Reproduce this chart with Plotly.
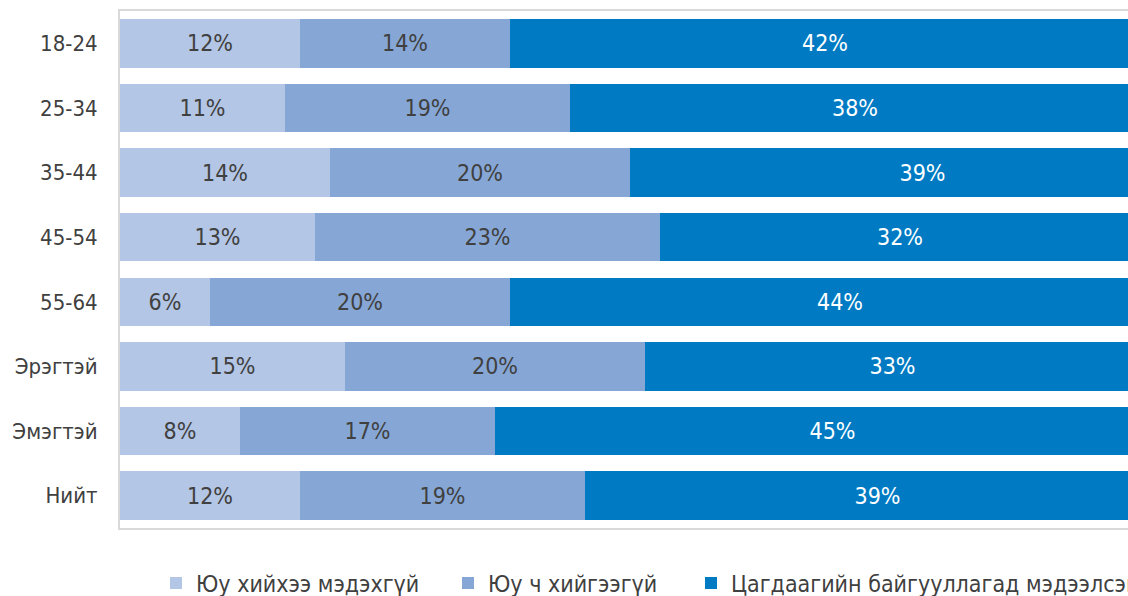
import plotly.graph_objects as go

# Response share by age group and sex (%)
categories = ["18-24", "25-34", "35-44", "45-54", "55-64", "Эрэгтэй", "Эмэгтэй", "Нийт"]
series_names = [
    "Юу хийхээ мэдэхгүй",
    "Юу ч хийгээгүй",
    "Цагдаагийн байгууллагад мэдээлсэн",
]
dont_know = [12, 11, 14, 13, 6, 15, 8, 12]
did_nothing = [14, 19, 20, 23, 20, 20, 17, 19]
reported_police = [42, 38, 39, 32, 44, 33, 45, 39]

series_values = [dont_know, did_nothing, reported_police]
colors = ["#B4C6E5", "#86A7D6", "#007BC3"]
text_colors = ["#404040", "#404040", "#FFFFFF"]

FONT = "DejaVu Sans Condensed, DejaVu Sans, sans-serif"

L_MARGIN = 120
PLOT_W = 1500
R_MARGIN = 25
FIG_W = L_MARGIN + PLOT_W + R_MARGIN
FIG_H = 596

# left edge (px) of each legend entry
legend_px = [156, 448, 691]
legend_keys = ["legend", "legend2", "legend3"]

fig = go.Figure()
for i, (name, vals) in enumerate(zip(series_names, series_values)):
    fig.add_trace(go.Bar(
        y=categories,
        x=vals,
        name=name,
        orientation="h",
        marker=dict(color=colors[i], line=dict(width=0)),
        texttemplate="%{x}%",
        textposition="inside",
        insidetextanchor="middle",
        textfont=dict(color=text_colors[i], size=23, family=FONT),
        legend=legend_keys[i],
        hoverinfo="skip",
    ))

legend_style = dict(
    orientation="h",
    xanchor="left",
    yref="container",
    y=(FIG_H - 583) / FIG_H,
    yanchor="middle",
    font=dict(size=23, color="#404040", family=FONT),
    itemclick=False,
    bgcolor="rgba(0,0,0,0)",
)

fig.update_layout(
    barmode="stack",
    bargap=0.25,
    width=FIG_W,
    height=FIG_H,
    margin=dict(l=L_MARGIN, r=R_MARGIN, t=9, b=68),
    paper_bgcolor="white",
    plot_bgcolor="white",
    font=dict(family=FONT, size=22, color="#404040"),
    xaxis=dict(
        range=[0, 100],
        showticklabels=False,
        showgrid=False,
        zeroline=False,
        showline=True,
        linecolor="#D9D9D9",
        linewidth=2,
        mirror=True,
        ticks="",
    ),
    yaxis=dict(
        autorange="reversed",
        showgrid=False,
        zeroline=False,
        showline=True,
        linecolor="#D9D9D9",
        linewidth=2,
        mirror=True,
        ticks="",
        ticklabelstandoff=16,
        tickfont=dict(size=22, color="#404040", family=FONT),
    ),
    legend=dict(x=(legend_px[0] - L_MARGIN) / PLOT_W, **legend_style),
    legend2=dict(x=(legend_px[1] - L_MARGIN) / PLOT_W, **legend_style),
    legend3=dict(x=(legend_px[2] - L_MARGIN) / PLOT_W, **legend_style),
    showlegend=True,
)

fig.write_html("out.html")
